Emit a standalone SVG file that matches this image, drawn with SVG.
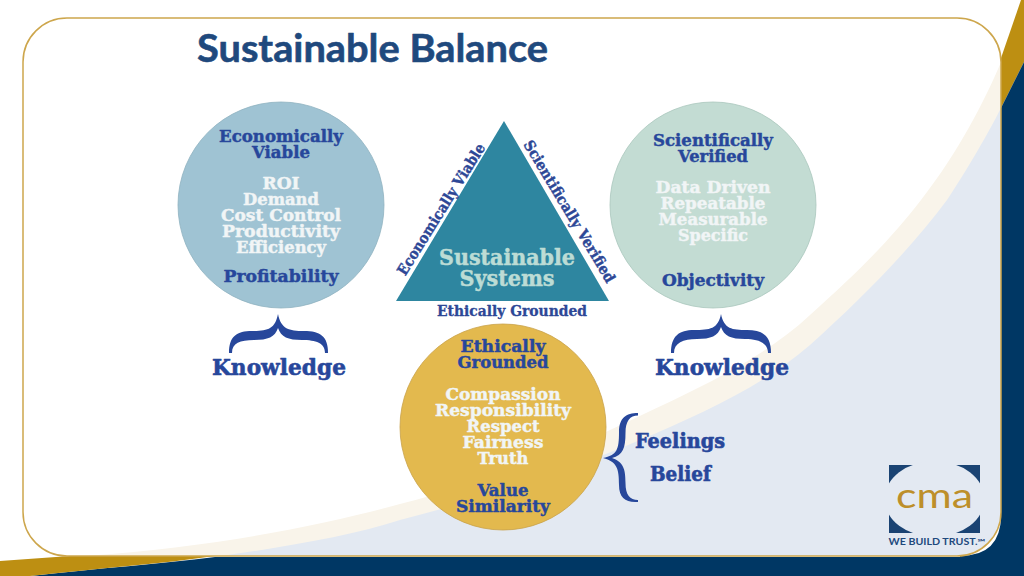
<svg xmlns="http://www.w3.org/2000/svg" width="1024" height="576" viewBox="0 0 1024 576">
<style>
text{font-family:"DejaVu Serif","Liberation Serif",serif;font-weight:700;text-anchor:middle;stroke-linejoin:round}
.b{fill:#27479b;stroke:#27479b;stroke-width:.45px;font-size:16.500px}
.w{fill:#f1f5f6;stroke:#f1f5f6;stroke-width:.45px;font-size:16.500px}
.k{fill:#27479b;stroke:#27479b;stroke-width:.6px;font-size:23px}
.s{fill:#bcdcd5;stroke:#bcdcd5;stroke-width:.5px;font-size:22px}
.r{fill:#2d4796;stroke:#2d4796;stroke-width:.4px;font-size:15px}
.g{fill:#2d4796;stroke:#2d4796;stroke-width:.3px;font-size:14px}
.f{font-size:20px}
.brace{fill:#27479b}
</style>
<defs>
<clipPath id="frameClip"><rect x="23" y="18" width="978" height="538" rx="44"/></clipPath>
</defs>
<rect width="1024" height="576" fill="#ffffff"/>
<g id="background">
<g clip-path="url(#frameClip)">
<path d="M70,557 C210,548 320,526 400,504 C490,480 550,460 610,430 C690,392 760,362 810,315 C860,270 890,240 921,200 C960,150 985,100 1002,60 L1002,557 Z" fill="#f9f4ea"/>
<path d="M215,557 C290,546 350,536 400,520 C490,497 570,470 640,440 C700,414 760,388 810,345 C860,300 910,250 947,200 C970,165 990,130 1002,106 L1002,557 Z" fill="#e3e9f2"/>
</g>
<path d="M1001,58 L1021,0 H1024 V62 L1001,108 Z" fill="#bd8f12"/>
<path d="M1001,108 L1024,62 V576 H1001 Z" fill="#003764"/>
<path d="M960,556 Q1001,556 1001,515 V576 H960 Z" fill="#003764"/>
<path d="M30,576 C100,568 160,564 215,557 H1024 V576 Z" fill="#003764"/>
<path d="M0,561 L70,556 H215 C160,564 100,568 30,576 H0 Z" fill="#bd8f12"/>
<rect x="23" y="18" width="978" height="538" rx="44" fill="none" stroke="#cda64c" stroke-width="1.5"/>
</g>
<text id="title" x="197" y="62" textLength="351" lengthAdjust="spacingAndGlyphs" style="font-family:Lato,'Open Sans','Liberation Sans',sans-serif;font-size:39px;text-anchor:start;stroke:#1f497d;stroke-width:.6px" fill="#1f497d">Sustainable Balance</text>

<g id="node-economic">
<circle cx="281" cy="205" r="103" fill="#9fc3d3" stroke="#8fb3c0" stroke-width="0.8"/>
<text class="b" x="281" y="142" textLength="124" lengthAdjust="spacingAndGlyphs">Economically</text>
<text class="b" x="281" y="158" textLength="58" lengthAdjust="spacingAndGlyphs">Viable</text>
<text class="w" x="281" y="189" textLength="37" lengthAdjust="spacingAndGlyphs">ROI</text>
<text class="w" x="281" y="205" textLength="76" lengthAdjust="spacingAndGlyphs">Demand</text>
<text class="w" x="281" y="221" textLength="120" lengthAdjust="spacingAndGlyphs">Cost Control</text>
<text class="w" x="281" y="237" textLength="118" lengthAdjust="spacingAndGlyphs">Productivity</text>
<text class="w" x="281" y="253" textLength="90" lengthAdjust="spacingAndGlyphs">Efficiency</text>
<text class="b" x="281" y="282" textLength="115" lengthAdjust="spacingAndGlyphs">Profitability</text>
</g>
<g id="node-scientific">
<circle cx="713" cy="205" r="103" fill="#c3dcd3" stroke="#a9c7bc" stroke-width="0.8"/>
<text class="b" x="713" y="146" textLength="120" lengthAdjust="spacingAndGlyphs">Scientifically</text>
<text class="b" x="713" y="162" textLength="70" lengthAdjust="spacingAndGlyphs">Verified</text>
<text class="w" x="713" y="193" textLength="115" lengthAdjust="spacingAndGlyphs">Data Driven</text>
<text class="w" x="713" y="209" textLength="105" lengthAdjust="spacingAndGlyphs">Repeatable</text>
<text class="w" x="713" y="225" textLength="109" lengthAdjust="spacingAndGlyphs">Measurable</text>
<text class="w" x="713" y="241" textLength="70" lengthAdjust="spacingAndGlyphs">Specific</text>
<text class="b" x="713" y="286" textLength="102" lengthAdjust="spacingAndGlyphs">Objectivity</text>
</g>
<g id="node-ethical">
<circle cx="503" cy="427" r="103" fill="#e3b94e" stroke="#c9a24a" stroke-width="0.8"/>
<text class="b" x="503" y="352" textLength="85" lengthAdjust="spacingAndGlyphs">Ethically</text>
<text class="b" x="503" y="368" textLength="91" lengthAdjust="spacingAndGlyphs">Grounded</text>
<text class="w" x="503" y="400" textLength="115" lengthAdjust="spacingAndGlyphs">Compassion</text>
<text class="w" x="503" y="416" textLength="136" lengthAdjust="spacingAndGlyphs">Responsibility</text>
<text class="w" x="503" y="432" textLength="73" lengthAdjust="spacingAndGlyphs">Respect</text>
<text class="w" x="503" y="448" textLength="81" lengthAdjust="spacingAndGlyphs">Fairness</text>
<text class="w" x="503" y="464" textLength="51" lengthAdjust="spacingAndGlyphs">Truth</text>
<text class="b" x="503" y="496" textLength="51" lengthAdjust="spacingAndGlyphs">Value</text>
<text class="b" x="503" y="512" textLength="94" lengthAdjust="spacingAndGlyphs">Similarity</text>
</g>
<g id="node-triangle">
<polygon points="504,121 396,301 609,301" fill="#2e86a0"/>
<text class="s" x="507" y="265" textLength="136" lengthAdjust="spacingAndGlyphs">Sustainable</text>
<text class="s" x="507" y="286" textLength="95" lengthAdjust="spacingAndGlyphs">Systems</text>
<text class="r" transform="translate(445.500,212) rotate(-58)" textLength="152" lengthAdjust="spacingAndGlyphs">Economically Viable</text>
<text class="r" transform="translate(565,214) rotate(59)" textLength="163" lengthAdjust="spacingAndGlyphs">Scientifically Verified</text>
<text class="g" x="512" y="316" textLength="150" lengthAdjust="spacingAndGlyphs">Ethically Grounded</text>
</g>
<g id="connectors">
<path class="brace" d="M229,353 C229,336 237,331 252,331 C268,331 275,329 278,314 C281,329 289,331 304,331 C320,331 328,336 328,353 H325 C325,343 316,340 302,340 C288,340 281,337 278,328 C275,337 268,340 254,340 C240,340 232,343 232,353 Z"/>
<path class="brace" d="M671,353 C671,336 679,330 694,330 C710,330 718,329 721,314 C724,329 732,330 747,330 C763,330 771,336 771,353 H768 C768,343 759,339 745,339 C731,339 724,336 721,327 C718,336 711,339 697,339 C683,339 674,343 674,353 Z"/>
<path class="brace" d="M638,413 C626,413 619,418 619,432 C619,450 617,455 603,458 C617,462 619,468 619,485 C619,498 626,503 638,502 V500 C630,500 625.500,495 625.500,483 C625.500,468 623,462 612,458 C623,455 625.500,448 625.500,433 C625.500,421 630,415.500 638,415.500 Z"/>
</g>
<g id="node-knowledge-left"><text class="k" x="279" y="375" textLength="134" lengthAdjust="spacingAndGlyphs">Knowledge</text></g>
<g id="node-knowledge-right"><text class="k" x="722" y="375" textLength="134" lengthAdjust="spacingAndGlyphs">Knowledge</text></g>
<g id="node-feelings">
<text class="k f" x="680" y="448" textLength="90" lengthAdjust="spacingAndGlyphs">Feelings</text>
<text class="k f" x="680.500" y="481" textLength="61" lengthAdjust="spacingAndGlyphs">Belief</text>
</g>
<g id="node-logo">
<rect x="889" y="465" width="91" height="68" fill="#1a4373"/>
<ellipse cx="934.500" cy="499" rx="50" ry="38" fill="#e3e9f2"/>
<text x="934.500" y="508" textLength="77" lengthAdjust="spacingAndGlyphs" style="font-family:Lato,'Liberation Sans',sans-serif;font-weight:400;font-size:34px" fill="#bd8f2a">cma</text>
<text x="937" y="545" textLength="97" lengthAdjust="spacingAndGlyphs" style="font-family:Lato,'Liberation Sans',sans-serif;font-weight:700;font-size:8.500px" fill="#1f497d">WE BUILD TRUST.℠</text>
</g>
</svg>
